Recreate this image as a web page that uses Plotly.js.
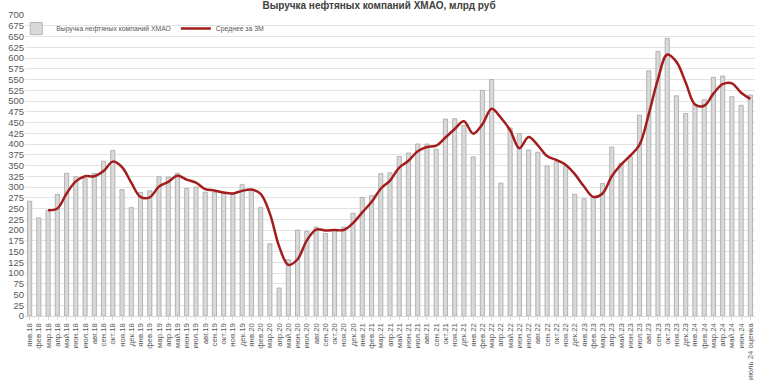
<!DOCTYPE html>
<html>
<head>
<meta charset="utf-8">
<script src="https://cdn.plot.ly/plotly-3.0.1.min.js"></script>
<style>html,body{margin:0;padding:0;background:#fff;}#chart{width:758px;height:382px;}</style>
</head>
<body>
<div id="chart"></div>
<script>
const months = ["янв.18","фев.18","мар.18","апр.18","май.18","июн.18","июл.18","авг.18","сен.18","окт.18","ноя.18","дек.18",
"янв.19","фев.19","мар.19","апр.19","май.19","июн.19","июл.19","авг.19","сен.19","окт.19","ноя.19","дек.19",
"янв.20","фев.20","мар.20","апр.20","май.20","июн.20","июл.20","авг.20","сен.20","окт.20","ноя.20","дек.20",
"янв.21","фев.21","мар.21","апр.21","май.21","июн.21","июл.21","авг.21","сен.21","окт.21","ноя.21","дек.21",
"янв.22","фев.22","мар.22","апр.22","май.22","июн.22","июл.22","авг.22","сен.22","окт.22","ноя.22","дек.22",
"янв.23","фев.23","мар.23","апр.23","май.23","июн.23","июл.23","авг.23","сен.23","окт.23","ноя.23","дек.23",
"янв.24","фев.24","мар.24","апр.24","май.24","июн.24","июль 24 оценка"];

const revenue = [267,228,246,283,332,324,320,332,360,385,294,252,
287,291,324,323,332,297,300,288,288,285,283,306,
293,252,168,65,131,200,197,207,192,201,207,239,
276,280,331,333,371,379,400,400,388,458,459,443,
370,525,550,309,437,424,386,381,349,359,348,283,
273,275,308,393,355,371,467,570,615,646,512,471,
492,503,555,558,510,490,514];

const avg3m = [null,null,246,250,285,313,325,325,337,359,346,310,
277,276,301,312,326,317,310,295,292,287,285,291,
294,284,238,162,119,132,176,201,199,200,200,216,
241,265,296,315,345,361,383,393,396,415,435,453,
424,446,482,461,432,390,416,397,372,363,352,330,
301,277,285,325,352,373,398,469,551,608,591,543,
492,489,517,539,541,519,505];

const yTicks = [];
for (let v = 0; v <= 700; v += 25) yTicks.push(v);

const traces = [
  {
    type: "bar",
    name: "Выручка нефтяных компаний ХМАО",
    x: months,
    y: revenue,
    marker: {color: "#d9d9d9", line: {color: "#a6a6a6", width: 0.8}},
    hoverinfo: "x+y"
  },
  {
    type: "scatter",
    mode: "lines",
    name: "Среднее за 3М",
    x: months,
    y: avg3m,
    line: {color: "#a31d1d", width: 2.5, shape: "spline", smoothing: 1},
    connectgaps: false
  }
];

const layout = {
  width: 758,
  height: 382,
  margin: {l: 25, r: 3, t: 15, b: 66},
  paper_bgcolor: "#ffffff",
  plot_bgcolor: "#ffffff",
  font: {family: "Liberation Sans, Arial, sans-serif", color: "#595959"},
  title: {
    text: "<b>Выручка нефтяных компаний ХМАО, млрд руб</b>",
    font: {size: 10, color: "#404040"},
    x: 0.5, xanchor: "center",
    y: 0.995, yref: "container", yanchor: "top"
  },
  bargap: 0.55,
  showlegend: true,
  legend: {
    orientation: "h",
    x: -0.012, xanchor: "left",
    y: 0.955, yanchor: "middle",
    font: {size: 6.8, color: "#595959"},
    bgcolor: "rgba(255,255,255,0)",
    itemwidth: 30
  },
  xaxis: {
    type: "category",
    tickmode: "linear",
    dtick: 1,
    tickangle: -90,
    tickfont: {size: 7.8, color: "#595959"},
    showgrid: false,
    showline: true,
    linecolor: "#d9d9d9",
    ticks: "outside",
    ticklen: 3,
    tickcolor: "#d9d9d9",
    range: [-0.5, 78.5],
    automargin: false
  },
  yaxis: {
    range: [0, 700],
    tickvals: yTicks,
    tickfont: {size: 9.5, color: "#595959"},
    showgrid: true,
    gridcolor: "#e3e3e3",
    gridwidth: 1,
    zeroline: false,
    showline: false,
    ticks: "",
    automargin: false
  }
};

Plotly.newPlot("chart", traces, layout, {displayModeBar: false, staticPlot: true});
</script>
</body>
</html>
